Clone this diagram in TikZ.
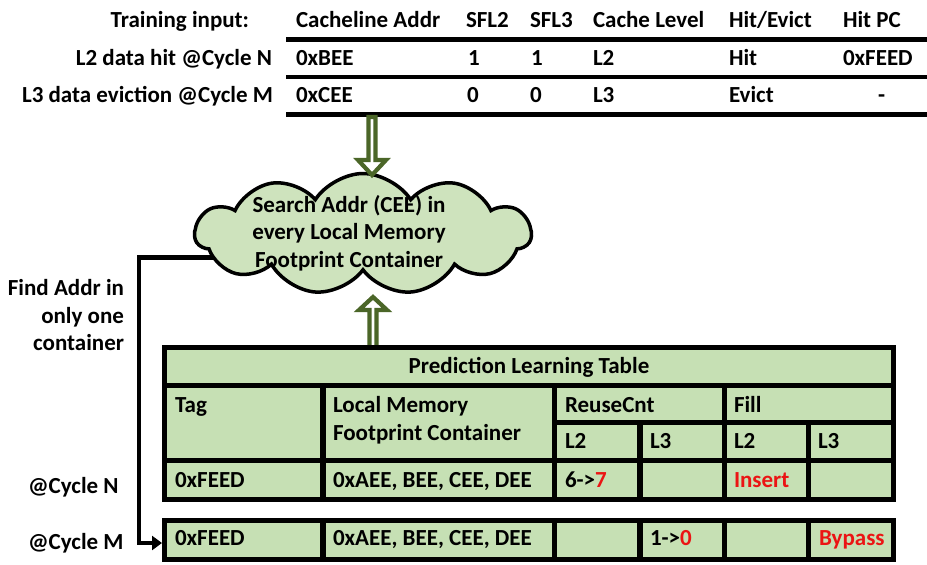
\documentclass[tikz,border=0pt]{standalone}
\usepackage{fontspec}
\setmainfont{Carlito}
\usetikzlibrary{shapes.symbols,arrows.meta}
\definecolor{cellgreen}{RGB}{198,224,180}
\definecolor{cloudgreen}{RGB}{206,227,189}
\definecolor{arrowgreen}{RGB}{75,102,40}
\definecolor{txtred}{RGB}{235,20,20}
\newcommand\mkcell[5]{\node[cellbox, minimum width=#4-#2, minimum height=#5-#3] (#1) at (#2,#3) {};}
\begin{document}
\begin{tikzpicture}[x=1pt,y=-1pt,
  every node/.style={inner sep=0pt, outer sep=0pt},
  txt/.style={font=\fontsize{23}{27.5}\selectfont\bfseries, anchor=base west},
  rtxt/.style={txt, anchor=base east},
  ctxt/.style={txt, anchor=base},
  red/.style={text=txtred},
  rulethick/.style={line width=5},
  rulethin/.style={line width=4},
  hollow/.style={draw=arrowgreen, line width=4.2, fill=white, line join=miter},
  cellbox/.style={fill=cellgreen, anchor=north west},
  tablebg/.style={fill=black, anchor=north west},
  conn/.style={line width=4.5, -{Triangle[length=10,width=14]}},
  cloudbox/.style={cloud, cloud puffs=11, cloud puff arc=115, cloud ignores aspect,
     draw=black, line width=3.5, fill=cloudgreen}
]
\useasboundingbox (0,0) rectangle (927,565);

% ---- training input table ----
\node[rtxt] (tin) at (249,27) {Training input:};
\node[txt] (hA) at (296,27) {Cacheline Addr};
\node[txt] (hB) at (466,27) {SFL2};
\node[txt] (hC) at (530,27) {SFL3};
\node[txt] (hD) at (593,27) {Cache Level};
\node[txt] (hE) at (729,27) {Hit/Evict};
\node[txt] (hF) at (843,27) {Hit PC};
\draw[rulethick] (286,39.5) -- (927,39.5);

\node[rtxt] (lN) at (272,65) {L2 data hit @Cycle N};
\node[txt] (aA) at (296,65) {0xBEE};
\node[txt] (aB) at (468,65) {1};
\node[txt] (aC) at (531,65) {1};
\node[txt] (aD) at (593,65) {L2};
\node[txt] (aE) at (729,65) {Hit};
\node[txt] (aF) at (843,65) {0xFEED};
\draw[rulethin] (286,77) -- (927,77);

\node[rtxt] (lM) at (273,102) {L3 data eviction @Cycle M};
\node[txt] (bA) at (296,102) {0xCEE};
\node[txt] (bB) at (467,102) {0};
\node[txt] (bC) at (530,102) {0};
\node[txt] (bD) at (593,102) {L3};
\node[txt] (bE) at (729,102) {Evict};
\node[txt] (bF) at (878,102) {-};
\draw[rulethick] (286,114.5) -- (927,114.5);

% ---- cloud ----
\node[cloudbox, minimum width=336, minimum height=121] (cloud) at (363,234) {};
\node[ctxt] (c1) at (349,212) {Search Addr (CEE) in};
\node[ctxt] (c2) at (349,239.5) {every Local Memory};
\node[ctxt] (c3) at (349,267) {Footprint Container};

% ---- hollow arrows ----
\draw[hollow] (368.5,117) -- (368.5,160) -- (358,160) -- (372,175) -- (386,160) -- (375.5,160) -- (375.5,117) -- cycle;
\draw[hollow] (369.5,348) -- (369.5,310) -- (359,310) -- (373,297) -- (387,310) -- (376.5,310) -- (376.5,348) -- cycle;

% ---- prediction learning table ----
\node[tablebg, minimum width=734, minimum height=157] (t1) at (162,345) {};
\mkcell{title}{167}{350}{891}{383}
\mkcell{ctag}{167}{388}{320}{458}
\mkcell{clm}{326}{388}{552}{458}
\mkcell{creuse}{557}{388}{722}{420}
\mkcell{cfill}{727}{388}{891}{420}
\mkcell{crl2}{557}{425}{637}{458}
\mkcell{crl3}{643}{425}{722}{458}
\mkcell{cfl2}{727}{425}{806}{458}
\mkcell{cfl3}{811}{425}{891}{458}
\mkcell{nA}{167}{463}{320}{497}
\mkcell{nB}{326}{463}{552}{497}
\mkcell{nC}{557}{463}{637}{497}
\mkcell{nD}{643}{463}{722}{497}
\mkcell{nE}{727}{463}{806}{497}
\mkcell{nF}{811}{463}{891}{497}

\node[ctxt] (ttl) at (529,373) {Prediction Learning Table};
\node[txt] (tTag) at (175,412) {Tag};
\node[txt] (tLM1) at (333,412) {Local Memory};
\node[txt] (tLM2) at (333,440) {Footprint Container};
\node[txt] (tRC) at (565,412) {ReuseCnt};
\node[txt] (tFi) at (734,412) {Fill};
\node[txt] (tR2) at (565,448) {L2};
\node[txt] (tR3) at (650,448) {L3};
\node[txt] (tF2) at (734,448) {L2};
\node[txt] (tF3) at (818,448) {L3};
\node[txt] (xA) at (175,487) {0xFEED};
\node[txt] (xB) at (333,487) {0xAEE, BEE, CEE, DEE};
\node[txt] (xC) at (565,487) {6->\textcolor{txtred}{7}};
\node[txt, red] (xE) at (734,487) {Insert};

\node[tablebg, minimum width=734, minimum height=44] (t2) at (162,518) {};
\mkcell{mA}{167}{523}{320}{557}
\mkcell{mB}{326}{523}{552}{557}
\mkcell{mC}{557}{523}{637}{557}
\mkcell{mD}{643}{523}{722}{557}
\mkcell{mE}{727}{523}{806}{557}
\mkcell{mF}{811}{523}{891}{557}
\node[txt] (yA) at (175,545) {0xFEED};
\node[txt] (yB) at (333,545) {0xAEE, BEE, CEE, DEE};
\node[txt] (yD) at (650,545) {1->\textcolor{txtred}{0}};
\node[txt, red] (yF) at (819,545) {Bypass};

% ---- left labels ----
\node[rtxt] (f1) at (124,295) {Find Addr in};
\node[rtxt] (f2) at (124,323) {only one};
\node[rtxt] (f3) at (124,350) {container};
\node[txt] (cN) at (28,493) {@Cycle N};
\node[txt] (cM) at (28,549) {@Cycle M};

% ---- connector ----
\coordinate (turn) at (139,0);
\coordinate (tgt) at ([yshift=-3pt]t2.west);
\draw[conn] (cloud.189) -- (cloud.189 -| turn) -- (turn |- tgt) -- (tgt);
\end{tikzpicture}
\end{document}
